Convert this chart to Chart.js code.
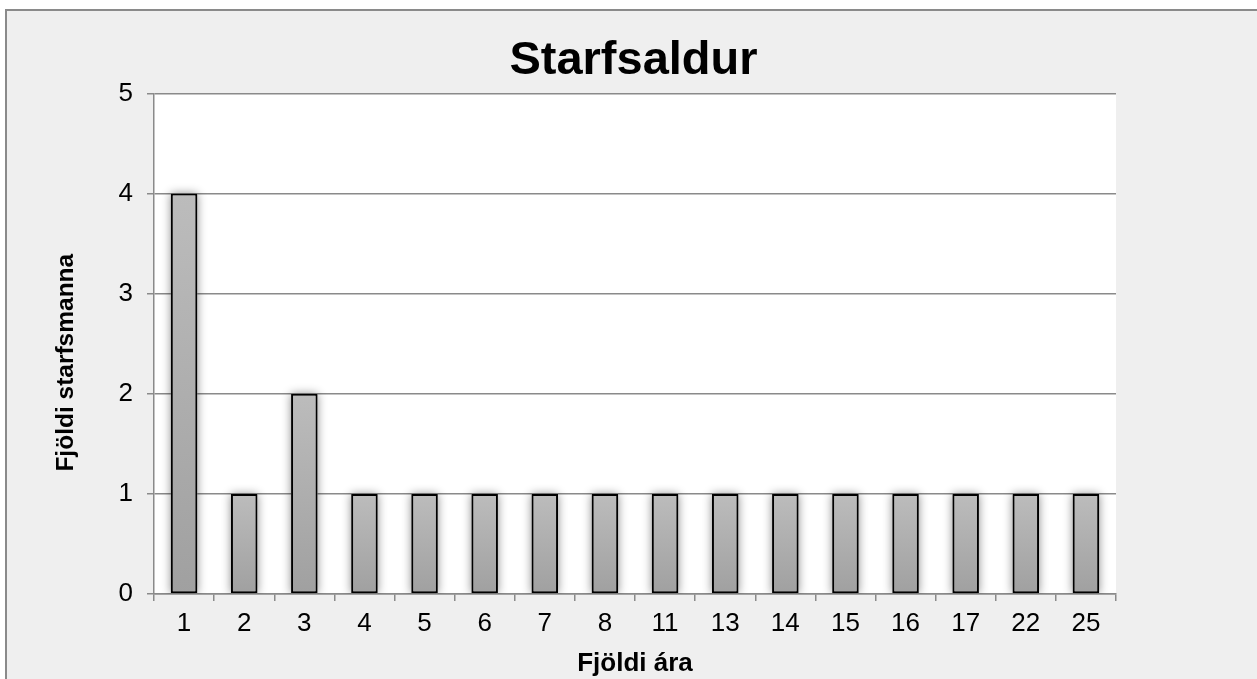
<!DOCTYPE html>
<html>
<head>
<meta charset="utf-8">
<script src="https://cdn.jsdelivr.net/npm/chart.js@4.4.1/dist/chart.umd.min.js"></script>
<style>
html,body{margin:0;padding:0;background:#ffffff;overflow:hidden;}
#wrap{position:absolute;left:0;top:0;width:1257px;height:679px;}
</style>
</head>
<body>
<div id="wrap"><canvas id="c" width="1257" height="679"></canvas></div>
<script>
const titleText = 'Starfsaldur';
const xTitle = 'Fjöldi ára';
const yTitle = 'Fjöldi starfsmanna';
const categories = ['1','2','3','4','5','6','7','8','11','13','14','15','16','17','22','25'];
const employees = [4,1,2,1,1,1,1,1,1,1,1,1,1,1,1,1];
const yTicks = [0,1,2,3,4,5];

const FONT = "'Liberation Sans', Arial, sans-serif";

const bgPlugin = {
  id: 'bg',
  beforeDraw(chart) {
    const ctx = chart.ctx;
    ctx.save();
    ctx.fillStyle = '#ffffff';
    ctx.fillRect(0, 0, chart.width, chart.height);
    ctx.fillStyle = '#efefef';
    ctx.fillRect(5, 9, chart.width, chart.height);
    ctx.strokeStyle = '#8a8a8a';
    ctx.lineWidth = 2;
    ctx.beginPath();
    ctx.moveTo(6, chart.height + 5);
    ctx.lineTo(6, 10);
    ctx.lineTo(chart.width + 5, 10);
    ctx.stroke();
    const a = chart.chartArea;
    ctx.fillStyle = '#ffffff';
    ctx.fillRect(a.left, a.top, a.right - a.left, a.bottom - a.top);
    ctx.restore();
  },
  beforeDatasetsDraw(chart) {
    // soft glow behind each bar
    const ctx = chart.ctx;
    const meta = chart.getDatasetMeta(0);
    ctx.save();
    ctx.beginPath();
    ctx.rect(chart.chartArea.left, chart.chartArea.top, chart.chartArea.right - chart.chartArea.left, chart.chartArea.bottom - chart.chartArea.top);
    ctx.clip();
    meta.data.forEach(el => {
      const w = el.width;
      const left = el.x - w / 2;
      const top = Math.min(el.y, el.base);
      const h = Math.abs(el.base - el.y);
      ctx.save();
      ctx.shadowColor = 'rgba(0,0,0,0.45)';
      ctx.shadowBlur = 10;
      ctx.shadowOffsetX = 0;
      ctx.shadowOffsetY = 0;
      ctx.fillStyle = '#a8a8a8';
      ctx.fillRect(left, top, w, h);
      ctx.restore();
    });
    ctx.restore();
  },
  afterDraw(chart) {
    // y-axis title, placed slightly below the plot centre as in the reference
    const ctx = chart.ctx;
    const a = chart.chartArea;
    ctx.save();
    ctx.translate(66, (a.top + a.bottom) / 2 + 19);
    ctx.rotate(-Math.PI / 2);
    ctx.fillStyle = '#000000';
    ctx.font = "bold 24.5px " + FONT;
    ctx.textAlign = 'center';
    ctx.textBaseline = 'middle';
    ctx.fillText(yTitle, 0, 0);
    ctx.restore();
  }
};

function barGradient(context) {
  const chart = context.chart;
  const ys = chart.scales.y;
  if (!ys || context.parsed === undefined || context.parsed.y === undefined) return '#b0b0b0';
  const top = ys.getPixelForValue(context.parsed.y);
  const bottom = ys.getPixelForValue(0);
  if (!isFinite(top) || !isFinite(bottom) || top === bottom) return '#b0b0b0';
  const g = chart.ctx.createLinearGradient(0, top, 0, bottom);
  g.addColorStop(0, '#bcbcbc');
  g.addColorStop(1, '#a0a0a0');
  return g;
}

new Chart(document.getElementById('c'), {
  type: 'bar',
  data: {
    labels: categories,
    datasets: [{
      label: yTitle,
      data: employees,
      backgroundColor: barGradient,
      borderColor: '#000000',
      borderWidth: 2,
      borderSkipped: false,
      barPercentage: 0.44,
      categoryPercentage: 1.0
    }]
  },
  plugins: [bgPlugin],
  options: {
    responsive: false,
    animation: false,
    devicePixelRatio: 1,
    layout: { padding: { left: 10, right: 0, top: 0, bottom: 0 } },
    plugins: {
      legend: { display: false },
      tooltip: { enabled: false },
      title: {
        display: true,
        text: titleText,
        color: '#000000',
        font: { family: FONT, size: 47, weight: 'bold' },
        padding: { top: 33, bottom: 4 }
      }
    },
    scales: {
      x: {
        grid: {
          display: true,
          drawOnChartArea: false,
          drawTicks: true,
          tickLength: 7,
          color: '#8a8a8a',
          lineWidth: 1.5,
          offset: true
        },
        border: { display: true, color: '#8a8a8a', width: 1.5 },
        ticks: {
          color: '#000000',
          font: { family: FONT, size: 26 },
          padding: 7,
          maxRotation: 0,
          autoSkip: false
        },
        title: {
          display: true,
          text: xTitle,
          color: '#000000',
          font: { family: FONT, size: 26, weight: 'bold' },
          padding: { top: 0, bottom: 0 }
        },
        afterFit(scale) { scale.height = 85; }
      },
      y: {
        min: 0,
        max: 5,
        afterBuildTicks(scale) { scale.ticks = yTicks.map(v => ({ value: v })); },
        grid: {
          color: '#8a8a8a',
          lineWidth: 1.5,
          drawTicks: true,
          tickLength: 7
        },
        border: { display: true, color: '#8a8a8a', width: 1.5 },
        ticks: {
          color: '#000000',
          font: { family: FONT, size: 26 },
          padding: 14
        },
        title: { display: false },
        afterFit(scale) { scale.width = 144; }
      },
      yr: {
        position: 'right',
        min: 0,
        max: 5,
        display: true,
        grid: { display: false, drawOnChartArea: false, drawTicks: false },
        border: { display: false },
        ticks: { display: false },
        title: { display: false },
        afterFit(scale) { scale.width = 141; }
      }
    }
  }
});
</script>
</body>
</html>
